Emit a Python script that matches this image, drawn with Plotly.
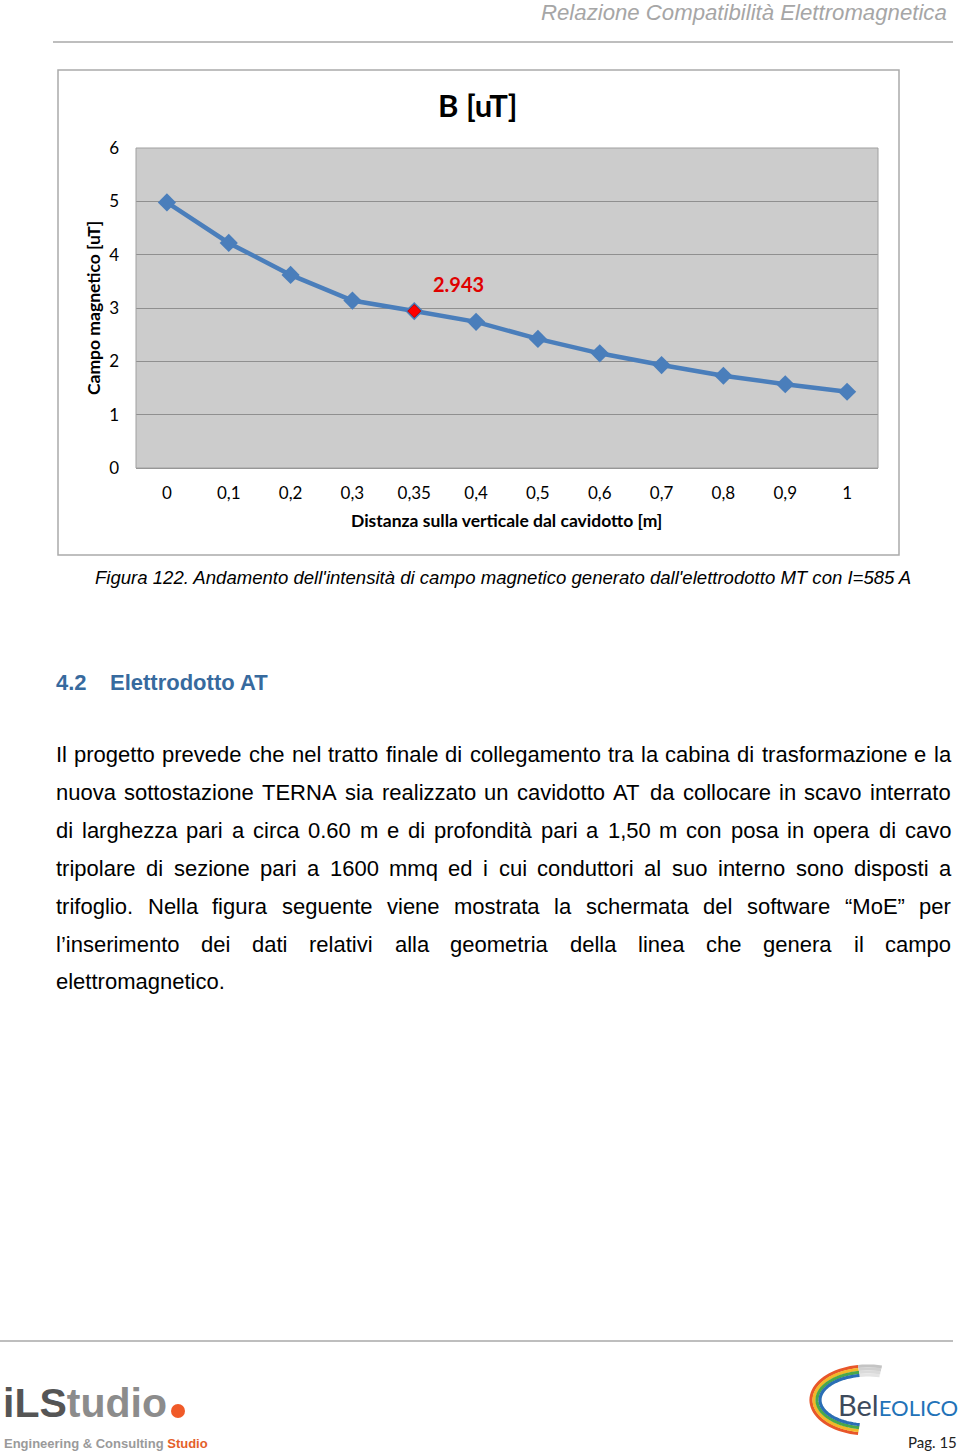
import math
import plotly.graph_objects as go

# ---------------- data ----------------
categories = ['0', '0,1', '0,2', '0,3', '0,35', '0,4', '0,5', '0,6', '0,7', '0,8', '0,9', '1']
b_values = [4.98, 4.22, 3.62, 3.14, 2.943, 2.74, 2.42, 2.15, 1.93, 1.73, 1.57, 1.43]
highlight_x = ['0,35']
highlight_y = [2.943]
y_ticks = [0, 1, 2, 3, 4, 5, 6]

chart_title = 'B [uT]'
x_title = 'Distanza sulla verticale dal cavidotto [m]'
y_title = 'Campo magnetico [uT]'
header_text = 'Relazione Compatibilità Elettromagnetica'
caption_text = "Figura 122. Andamento dell'intensità di campo magnetico generato dall'elettrodotto MT con I=585 A"
heading_num = '4.2'
heading_text = 'Elettrodotto AT'
body_lines = [
    'Il progetto prevede che nel tratto finale di collegamento tra la cabina di trasformazione e la',
    'nuova sottostazione TERNA sia realizzato un cavidotto AT da collocare in scavo interrato',
    'di larghezza pari a circa 0.60 m e di profondità pari a 1,50 m con posa in opera di cavo',
    'tripolare di sezione pari a 1600 mmq ed i cui conduttori al suo interno sono disposti a',
    'trifoglio. Nella figura seguente viene mostrata la schermata del software “MoE” per',
    'l’inserimento dei dati relativi alla geometria della linea che genera il campo',
    'elettromagnetico.',
]
page_label = 'Pag. 15'

W, H = 960, 1453


def X(px):
    return px / W


def Y(py):
    return 1 - py / H


# Arial / Liberation Sans advance widths (1/1000 em)
AW = {' ': 278, '.': 278, ',': 278, "'": 191, '’': 222, '“': 333, '”': 333, '=': 584,
      'A': 667, 'B': 667, 'C': 722, 'D': 722, 'E': 667, 'F': 611, 'G': 778, 'H': 722, 'I': 278,
      'J': 500, 'K': 667, 'L': 556, 'M': 833, 'N': 722, 'O': 778, 'P': 667, 'Q': 778, 'R': 722,
      'S': 667, 'T': 611, 'U': 722, 'V': 667, 'W': 944, 'X': 667, 'Y': 667, 'Z': 611,
      'a': 556, 'b': 556, 'c': 500, 'd': 556, 'e': 556, 'f': 278, 'g': 556, 'h': 556, 'i': 222,
      'j': 222, 'k': 500, 'l': 222, 'm': 833, 'n': 556, 'o': 556, 'p': 556, 'q': 556, 'r': 333,
      's': 500, 't': 278, 'u': 556, 'v': 500, 'w': 722, 'x': 500, 'y': 500, 'z': 500, 'à': 556}
for d in '0123456789':
    AW[d] = 556


def em(s):
    return sum(AW.get(c, 556) for c in s) / 1000.0


ARIAL = 'Liberation Sans, Arial, sans-serif'
CHART_FONT = 'Lato, Open Sans, sans-serif'

fig = go.Figure()

fig.add_trace(go.Scatter(
    x=categories, y=b_values, mode='lines+markers',
    line=dict(color='#4a7ebb', width=4.5),
    marker=dict(symbol='diamond', size=14, color='#4a7ebb'),
    showlegend=False, hoverinfo='x+y'))
fig.add_trace(go.Scatter(
    x=highlight_x, y=highlight_y, mode='markers',
    marker=dict(symbol='diamond', size=10, color='#ff0000', line=dict(color='#c00000', width=1)),
    showlegend=False))

annotations = []
shapes = []


def txt(px, py, text, size, color='#000', family=ARIAL, xanchor='left', yanchor='middle', **kw):
    annotations.append(dict(x=X(px), y=Y(py), xref='paper', yref='paper', text=text,
                            showarrow=False, borderpad=0, xanchor=xanchor, yanchor=yanchor,
                            font=dict(family=family, size=size, color=color), **kw))


# highlight label
annotations.append(dict(x=highlight_x[0], y=highlight_y[0], xref='x', yref='y',
                        text='<b>%.3f</b>' % highlight_y[0], showarrow=False,
                        xanchor='center', yanchor='middle', xshift=44, yshift=27,
                        font=dict(family=CHART_FONT, size=20, color='#e00000')))

# chart title and axis titles
txt(478, 105, '<b>%s</b>' % chart_title, 31, family=CHART_FONT, xanchor='center')
txt(507, 521, '<b>%s</b>' % x_title, 17.5, family=CHART_FONT, xanchor='center')
txt(93, 308, '<b>%s</b>' % y_title, 17.5, family=CHART_FONT, xanchor='center', textangle=-90)

# chart frame and plot area border
shapes.append(dict(type='rect', xref='paper', yref='paper', x0=X(58), x1=X(899), y0=Y(70), y1=Y(555),
                   line=dict(color='#ababab', width=1.5), fillcolor='rgba(0,0,0,0)'))
shapes.append(dict(type='rect', xref='paper', yref='paper', x0=X(136), x1=X(878), y0=Y(148), y1=Y(468),
                   line=dict(color='#a0a0a0', width=1), fillcolor='rgba(0,0,0,0)'))

# header
hs = 406 / em(header_text)
txt(948, 12.5, '<i>%s</i>' % header_text, hs, color='#a6a6a6', xanchor='right')
shapes.append(dict(type='line', xref='paper', yref='paper', x0=X(53), x1=X(953), y0=Y(42), y1=Y(42),
                   line=dict(color='#a8a8a8', width=1.5)))

# caption
cs = 818 / em(caption_text)
txt(94, 577, '<i>%s</i>' % caption_text, cs)

# heading
HCOL = '#376a9e'
txt(55, 682, '<b>%s</b>' % heading_num, 22, color=HCOL)
txt(109, 682, '<b>%s</b>' % heading_text, 22, color=HCOL)

# body, justified
FS = 22
LX0, LX1 = 55, 950
line_y0, line_dy = 755, 37.8
for i, line in enumerate(body_lines):
    yy = line_y0 + i * line_dy
    words = line.split()
    if i == len(body_lines) - 1 or len(words) == 1:
        txt(LX0, yy, line, FS)
        continue
    widths = [em(w) * FS for w in words]
    gap = (LX1 - LX0 - sum(widths)) / (len(words) - 1)
    xpos = LX0
    for w, wd in zip(words, widths):
        txt(xpos, yy, w, FS)
        xpos += wd + gap

# footer line
shapes.append(dict(type='line', xref='paper', yref='paper', x0=X(0), x1=X(953), y0=Y(1341), y1=Y(1341),
                   line=dict(color='#a8a8a8', width=1.5)))

# iLStudio logo
txt(2, 1403, "<b><span style='color:#555555'>iLS</span><span style='color:#8c8c8c'>tudio</span></b>", 41, color='#555')
shapes.append(dict(type='circle', xref='paper', yref='paper', x0=X(171), x1=X(185), y0=Y(1404), y1=Y(1418),
                   line=dict(width=0), fillcolor='#f05a28'))
txt(3, 1443, "<b><span style='color:#9a9a9a'>Engineering &amp; Consulting </span><span style='color:#e4602a'>Studio</span></b>",
    13, color='#9a9a9a')

# BelEOLICO logo arcs
cx, cy, rx, ry = 868, 1400, 57, 34
band_cols = ['#e8562a', '#f2b829', '#4aa84a', '#2a6eb5']
for k, col in enumerate(band_cols):
    r_x, r_y = rx - 3.0 * k, ry - 3.0 * k
    pts = []
    for t in range(100, 262, 4):
        a = math.radians(t)
        pts.append((cx + r_x * math.cos(a), cy - r_y * math.sin(a)))
    path = 'M ' + ' L '.join('%.5f,%.5f' % (X(px), Y(py)) for px, py in pts)
    shapes.append(dict(type='path', xref='paper', yref='paper', path=path,
                       line=dict(color=col, width=3.2)))
for k, col in enumerate(['#c4c4c4', '#d0d0d0', '#dadada', '#e4e4e4']):
    r_x, r_y = rx - 3.0 * k, ry - 3.0 * k
    pts = []
    for t in range(76, 104, 4):
        a = math.radians(t)
        pts.append((cx + r_x * math.cos(a), cy - r_y * math.sin(a)))
    path = 'M ' + ' L '.join('%.5f,%.5f' % (X(px), Y(py)) for px, py in pts)
    shapes.append(dict(type='path', xref='paper', yref='paper', path=path,
                       line=dict(color=col, width=3.2)))
txt(837, 1404, "<span style='color:#3d4a5c;font-size:29px'>Bel</span><span style='color:#2272b8;font-size:22px'>EOLICO</span>",
    22, color='#2272b8', family=CHART_FONT)
txt(958, 1442, page_label, 15, color='#222', family=CHART_FONT, xanchor='right')

fig.update_layout(
    width=W, height=H, autosize=False,
    margin=dict(l=0, r=0, t=0, b=0, autoexpand=False),
    paper_bgcolor='#ffffff', plot_bgcolor='#cccccc',
    annotations=annotations, shapes=shapes,
    xaxis=dict(domain=[X(136), X(878)], type='category', categoryorder='array', categoryarray=categories,
               range=[-0.5, len(categories) - 0.5],
               showgrid=False, zeroline=False, showline=False, ticks='', automargin=False,
               tickfont=dict(family=CHART_FONT, size=17, color='#000'), ticklabelstandoff=13,
               fixedrange=True),
    yaxis=dict(domain=[Y(468), Y(148)], range=[0, 6], tickvals=y_ticks, showgrid=True,
               gridcolor='#8f8f8f', gridwidth=1.2, zeroline=True, zerolinecolor='#8f8f8f', zerolinewidth=1.2,
               showline=False, ticks='', automargin=False,
               tickfont=dict(family=CHART_FONT, size=17, color='#000'), ticklabelstandoff=16,
               fixedrange=True),
)

fig.write_html('out.html')
